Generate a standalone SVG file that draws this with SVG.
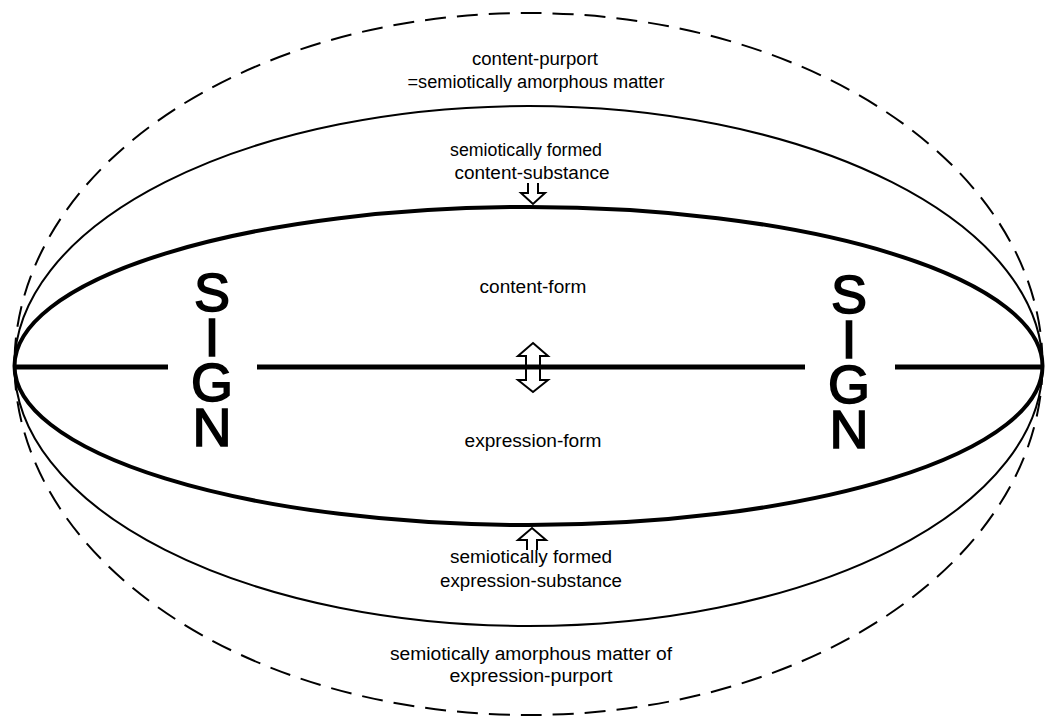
<svg xmlns="http://www.w3.org/2000/svg" width="1045" height="724" viewBox="0 0 1045 724">
<style>
.lbl{font-family:"Liberation Sans",Arial,sans-serif;font-size:18px;fill:#000;text-anchor:middle}
.sign{font-family:"Liberation Sans",Arial,sans-serif;font-size:54px;font-weight:normal;fill:#000;stroke:#000;stroke-width:1.6;writing-mode:vertical-rl;text-orientation:upright;letter-spacing:-15px}
.arr{fill:none;stroke:#000;stroke-width:2;stroke-linejoin:miter}
</style>
<rect width="1045" height="724" fill="#fff"/>
<g id="purport-outer">
<ellipse cx="528.5" cy="364" rx="514" ry="351" fill="none" stroke="#000" stroke-width="2" stroke-dasharray="21 11"/>
<text class="lbl" x="535" y="65" textLength="126" lengthAdjust="spacingAndGlyphs">content-purport</text>
<text class="lbl" x="536" y="88" textLength="257" lengthAdjust="spacingAndGlyphs">=semiotically amorphous matter</text>
<text class="lbl" x="531" y="660" textLength="282" lengthAdjust="spacingAndGlyphs">semiotically amorphous matter of</text>
<text class="lbl" x="531" y="682" textLength="163" lengthAdjust="spacingAndGlyphs">expression-purport</text>
</g>
<g id="substance">
<ellipse cx="528.5" cy="366" rx="514" ry="260" fill="none" stroke="#000" stroke-width="2"/>
<text class="lbl" x="526" y="156" textLength="152" lengthAdjust="spacingAndGlyphs">semiotically formed</text>
<text class="lbl" x="532" y="179" textLength="155" lengthAdjust="spacingAndGlyphs">content-substance</text>
<text class="lbl" x="531" y="563" textLength="162" lengthAdjust="spacingAndGlyphs">semiotically formed</text>
<text class="lbl" x="531" y="587" textLength="182" lengthAdjust="spacingAndGlyphs">expression-substance</text>
</g>
<g id="form">
<ellipse cx="528.5" cy="366" rx="514" ry="159" fill="none" stroke="#000" stroke-width="4"/>
<text class="lbl" x="533" y="293" textLength="107" lengthAdjust="spacingAndGlyphs">content-form</text>
<text class="lbl" x="533" y="447" textLength="137" lengthAdjust="spacingAndGlyphs">expression-form</text>
</g>
<g id="connectors">
<path d="M14,367 H168 M257,367 H805 M895,367 H1043" stroke="#000" stroke-width="5" fill="none"/>
<path class="arr" d="M528,183 V193 H521 L533,204 L545,193 H538 V183"/>
<path class="arr" d="M527,550 V540 H518 L532,528 L546,540 H537 V550"/>
<path class="arr" d="M533,343 L548,356 H540 V380 H548 L533,392 L518,380 H526 V356 H518 Z"/>
</g>
<g id="sign-left">
<text class="sign" x="212" y="262">SIGN</text>
</g>
<g id="sign-right">
<text class="sign" x="849" y="264">SIGN</text>
</g>
</svg>
